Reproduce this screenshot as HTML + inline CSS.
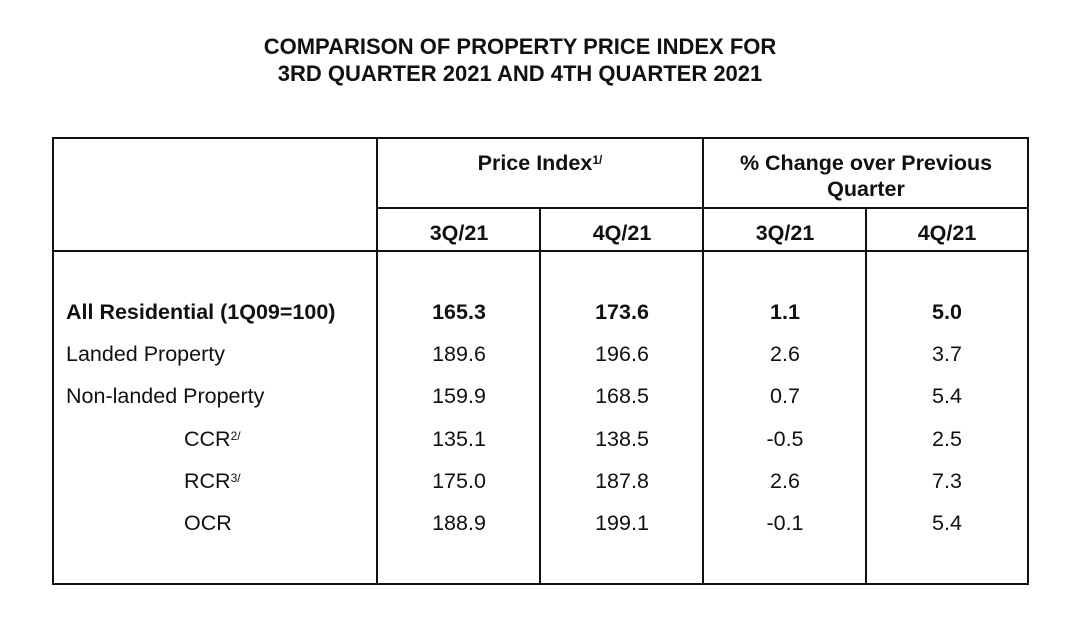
<!DOCTYPE html>
<html><head><meta charset="utf-8"><style>
html,body{margin:0;padding:0;background:#fff;width:1080px;height:617px;overflow:hidden;font-family:"Liberation Sans",Arial,sans-serif;color:#111}
.t{position:absolute;white-space:nowrap;font-size:21.5px;line-height:22px;transform:translate(-50%,-50%)}
.l{position:absolute;white-space:nowrap;font-size:21.5px;line-height:22px;transform:translateY(-50%)}
.b{font-weight:bold}
.ln{position:absolute;background:#111}
sup{font-size:12px;vertical-align:top;position:relative;top:-3px}
</style></head><body>
<div>
<div class="t b" style="left:520px;top:47px;font-size:22px">COMPARISON OF PROPERTY PRICE INDEX FOR</div>
<div class="t b" style="left:520px;top:74px;font-size:22px">3RD QUARTER 2021 AND 4TH QUARTER 2021</div>
</div>
<div>
<div class="ln" style="left:52px;top:137px;width:977px;height:2px"></div>
<div class="ln" style="left:52px;top:583px;width:977px;height:2px"></div>
<div class="ln" style="left:52px;top:137px;width:2px;height:448px"></div>
<div class="ln" style="left:1027px;top:137px;width:2px;height:448px"></div>
<div class="ln" style="left:376px;top:137px;width:2px;height:448px"></div>
<div class="ln" style="left:702px;top:137px;width:2px;height:448px"></div>
<div class="ln" style="left:539px;top:207px;width:2px;height:378px"></div>
<div class="ln" style="left:865px;top:207px;width:2px;height:378px"></div>
<div class="ln" style="left:376px;top:207px;width:653px;height:2px"></div>
<div class="ln" style="left:52px;top:250px;width:977px;height:2px"></div>
<div class="t b" style="left:540px;top:163px">Price Index<sup>1/</sup></div>
<div class="t b" style="left:866px;top:163px">% Change over Previous</div>
<div class="t b" style="left:866px;top:189px">Quarter</div>
<div class="t b" style="left:459px;top:233px">3Q/21</div>
<div class="t b" style="left:622px;top:233px">4Q/21</div>
<div class="t b" style="left:785px;top:233px">3Q/21</div>
<div class="t b" style="left:947px;top:233px">4Q/21</div>
<div id="rows"></div>
</div>
<script>
const labels=["All Residential (1Q09=100)","Landed Property","Non-landed Property","CCR","RCR","OCR"];
const sups=["","","","2/","3/",""];
const idx3=["165.3","189.6","159.9","135.1","175.0","188.9"];
const idx4=["173.6","196.6","168.5","138.5","187.8","199.1"];
const chg3=["1.1","2.6","0.7","-0.5","2.6","-0.1"];
const chg4=["5.0","3.7","5.4","2.5","7.3","5.4"];
const rows=document.getElementById('rows');
const cols=[459,622,785,947];
labels.forEach((lab,i)=>{
  const y=312+i*42.2;
  const bold=i===0?' b':'';
  const d=document.createElement('div');
  d.className='l'+bold;
  d.style.left=(i>=3?184:66)+'px';d.style.top=y+'px';
  d.innerHTML=lab+(sups[i]?'<sup>'+sups[i]+'</sup>':'');
  
  
  rows.appendChild(d);
  [idx3[i],idx4[i],chg3[i],chg4[i]].forEach((v,j)=>{
    const c=document.createElement('div');
    c.className='t'+bold;
    c.style.left=cols[j]+'px';c.style.top=y+'px';
    c.textContent=v;
    
    
    rows.appendChild(c);
  });
});
</script>
</body></html>
